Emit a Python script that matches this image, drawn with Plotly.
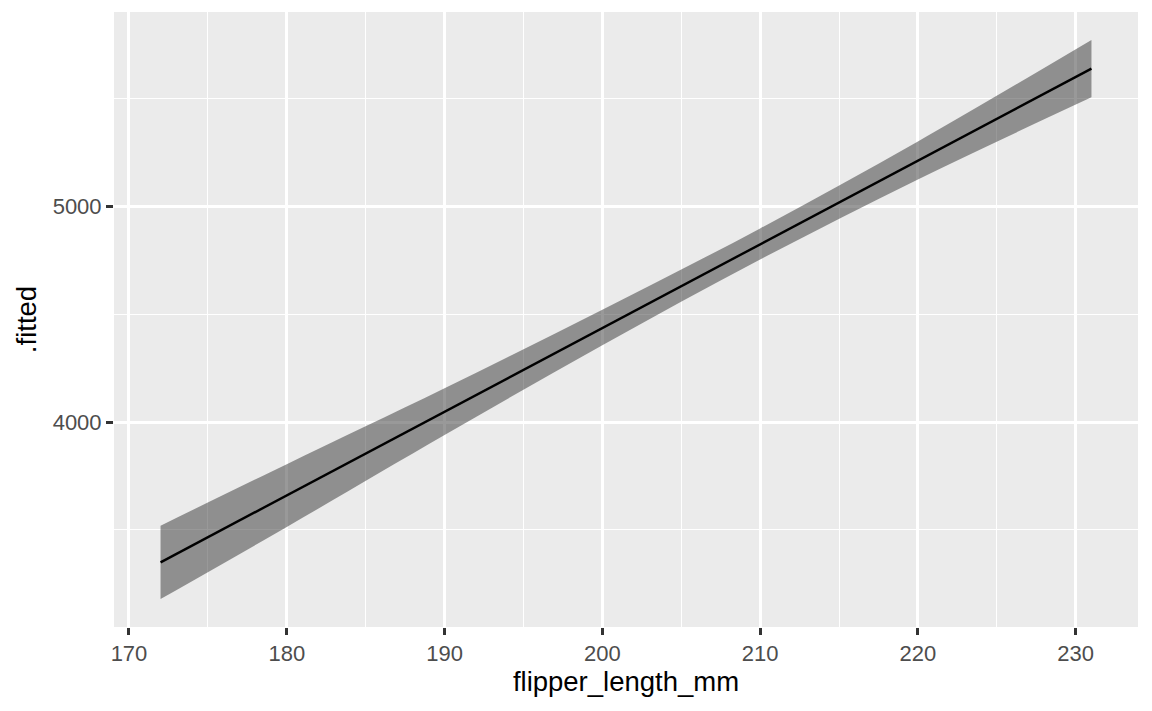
import plotly.graph_objects as go

# Data
flipper_length_mm = [172, 180, 190, 200, 210, 220, 231]
fitted = [3350, 3660, 4048, 4438, 4825, 5212, 5637]
lower = [3180, 3514, 3940, 4356, 4753, 5124, 5504]
upper = [3520, 3805, 4156, 4520, 4897, 5300, 5770]

x_ticks = [170, 180, 190, 200, 210, 220, 230]
y_ticks = [4000, 5000]

fig = go.Figure()
fig.add_trace(go.Scatter(x=flipper_length_mm, y=lower, mode="lines",
                         line=dict(width=0, color="rgba(0,0,0,0)", shape="spline", smoothing=1.0),
                         showlegend=False, hoverinfo="skip"))
fig.add_trace(go.Scatter(x=flipper_length_mm, y=upper, mode="lines",
                         line=dict(width=0, color="rgba(0,0,0,0)", shape="spline", smoothing=1.0),
                         fill="tonexty", fillcolor="rgba(51,51,51,0.5)",
                         showlegend=False, hoverinfo="skip"))
fig.add_trace(go.Scatter(x=flipper_length_mm, y=fitted, mode="lines",
                         line=dict(color="black", width=2.4),
                         showlegend=False))

xr = [min(flipper_length_mm), max(flipper_length_mm)]
dx = (xr[1] - xr[0]) * 0.05
ymin, ymax = min(lower), max(upper)
dy = (ymax - ymin) * 0.05

fig.update_layout(
    width=1144, height=703,
    margin=dict(l=106, r=14, t=4, b=84),
    paper_bgcolor="white",
    plot_bgcolor="#EBEBEB",
    font=dict(family="Liberation Sans, Arial, sans-serif"),
    showlegend=False,
)
fig.update_xaxes(
    range=[xr[0] - dx, xr[1] + dx], automargin=False,
    tickmode="array", tickvals=x_ticks, ticktext=[str(v) for v in x_ticks],
    showgrid=True, gridcolor="white", gridwidth=2.6,
    minor=dict(dtick=5, tick0=165, showgrid=True, gridcolor="white", gridwidth=1.3, ticks=""),
    ticks="outside", ticklen=7, tickwidth=2.6, tickcolor="#333333",
    tickfont=dict(size=22, color="#4D4D4D"),
    zeroline=False, showline=False,
    title=dict(text="flipper_length_mm", font=dict(size=27.5, color="black"), standoff=6),
)
fig.update_yaxes(
    range=[ymin - dy, ymax + dy], automargin=False,
    tickmode="array", tickvals=y_ticks, ticktext=[str(v) for v in y_ticks],
    showgrid=True, gridcolor="white", gridwidth=2.6,
    minor=dict(dtick=500, tick0=3500, showgrid=True, gridcolor="white", gridwidth=1.3, ticks=""),
    ticks="outside", ticklen=7, tickwidth=2.6, tickcolor="#333333",
    tickfont=dict(size=22, color="#4D4D4D"),
    zeroline=False, showline=False,
    title=dict(text=".fitted", font=dict(size=27.5, color="black"), standoff=8),
)

fig.write_html("out.html")
